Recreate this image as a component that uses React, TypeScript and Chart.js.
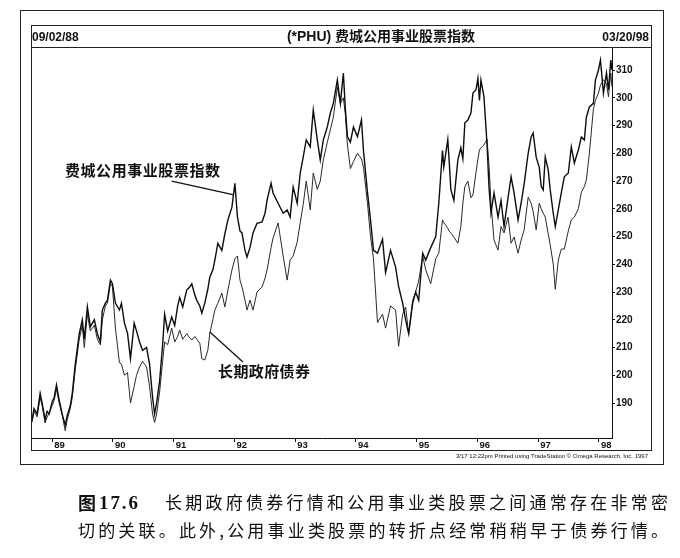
import React, { useEffect, useRef } from "react";
import { Chart, registerables } from "chart.js";

Chart.register(...registerables);

// ---- data (decimal years, index values) ----
const dates = [
  1988.669, 1988.702, 1988.752, 1988.802, 1988.835, 1988.884, 1988.917, 1988.95, 1989.0, 1989.033,
  1989.071, 1989.116, 1989.165, 1989.215, 1989.248, 1989.298, 1989.331, 1989.38, 1989.446, 1989.496,
  1989.529, 1989.579, 1989.628, 1989.694, 1989.744, 1989.793, 1989.826, 1989.876, 1989.909, 1989.959,
  1989.992, 1990.041, 1990.107, 1990.14, 1990.19, 1990.24, 1990.289, 1990.35, 1990.388, 1990.438,
  1990.488, 1990.554, 1990.603, 1990.653, 1990.686, 1990.719, 1990.769, 1990.818, 1990.851, 1990.901,
  1990.967, 1991.017, 1991.066, 1991.099, 1991.149, 1991.215, 1991.264, 1991.298, 1991.347, 1991.38,
  1991.43, 1991.463, 1991.512, 1991.562, 1991.595, 1991.645, 1991.678, 1991.727, 1991.793, 1991.843,
  1991.893, 1991.959, 1992.008, 1992.05, 1992.091, 1992.124, 1992.174, 1992.207, 1992.256, 1992.306,
  1992.372, 1992.455, 1992.504, 1992.537, 1992.603, 1992.636, 1992.719, 1992.802, 1992.868, 1992.917,
  1992.967, 1993.033, 1993.083, 1993.132, 1993.182, 1993.248, 1993.298, 1993.364, 1993.413, 1993.463,
  1993.529, 1993.579, 1993.628, 1993.694, 1993.744, 1993.793, 1993.826, 1993.86, 1993.909, 1993.959,
  1994.025, 1994.091, 1994.124, 1994.19, 1994.24, 1994.289, 1994.355, 1994.438, 1994.488, 1994.57,
  1994.653, 1994.702, 1994.769, 1994.818, 1994.868, 1994.934, 1994.983, 1995.033, 1995.099, 1995.149,
  1995.231, 1995.314, 1995.364, 1995.425, 1995.446, 1995.512, 1995.534, 1995.562, 1995.612, 1995.678,
  1995.727, 1995.76, 1995.793, 1995.843, 1995.893, 1995.926, 1995.975, 1996.008, 1996.033, 1996.058,
  1996.107, 1996.157, 1996.19, 1996.223, 1996.273, 1996.339, 1996.388, 1996.438, 1996.504, 1996.554,
  1996.603, 1996.669, 1996.719, 1996.769, 1996.835, 1996.884, 1996.917, 1996.967, 1997.017, 1997.05,
  1997.083, 1997.116, 1997.165, 1997.198, 1997.248, 1997.281, 1997.331, 1997.38, 1997.43, 1997.496,
  1997.545, 1997.595, 1997.661, 1997.711, 1997.76, 1997.793, 1997.843, 1997.909, 1997.942, 1997.992,
  1998.025, 1998.074, 1998.124, 1998.157, 1998.195, 1998.214,
];

const phuValues = [
  184, 188, 186, 193.5, 190, 184, 187, 186, 190.5, 192,
  196.5, 191, 186, 182, 185.5, 189, 193.5, 204, 215, 220,
  213, 224.7, 217.5, 220, 215, 212, 223.5, 226, 227, 234.3,
  233, 226, 223.5, 226, 218.8, 215.2, 206, 218.8, 216, 212,
  209, 210, 204, 192, 186, 190, 198, 211, 222, 216,
  221, 218, 225, 228, 224.6, 230.7, 231.8, 233, 229, 227,
  225, 222.4, 226, 231, 235.4, 238, 241.5, 247.6, 245, 251,
  256, 260.6, 269.2, 257, 252, 251.3, 245, 242.6, 246, 251.3,
  254.8, 255.3, 258.4, 263, 269.2, 265.7, 262, 258.4, 259.6, 257,
  267.8, 262, 272.9, 278.6, 284.8, 282.3, 295.6, 284.8, 277.6, 284.8,
  289.5, 294.5, 298, 306.4, 298, 308.9, 296, 286, 284, 289.5,
  286, 292, 281, 266, 256, 245, 244, 249, 237, 245,
  239, 232, 226, 220, 215, 226, 230, 227, 244, 241.5,
  246, 250, 262, 281, 275, 285, 277.6, 267, 263, 277.6,
  282, 278, 291, 292, 294.5, 301.7, 302.8, 307, 299, 306.4,
  300.4, 283.7, 268, 258.4, 265.7, 257, 263, 253.6, 264, 271.5,
  265.7, 256, 262, 269, 280, 285.9, 287.3, 278.6, 275, 268,
  266.8, 278.6, 274, 266.8, 258.4, 253.6, 259.6, 265.7, 271.5, 272.9,
  282.3, 276.5, 281.2, 285.9, 284.8, 293, 296.7, 298, 306.4, 310,
  313.6, 301.7, 308.9, 302.8, 313.6, 310,
];

const bondValues = [
  183, 187, 185, 192, 189, 182.8, 185, 186.4, 189, 191,
  195, 190, 185.7, 180, 184, 188, 192, 202, 213, 218,
  210, 222, 216, 218, 213, 211, 220, 225, 226, 233,
  232, 217, 204.5, 204, 200, 201, 190, 196, 200, 203,
  205, 203, 196, 186, 183, 186, 194, 205, 212, 211,
  217, 212, 214, 216.3, 213, 215, 213.5, 212.7, 214, 213,
  211.6, 206, 205.5, 209, 215.2, 220, 223.5, 226, 229.6, 224.6,
  230.7, 238, 242, 243, 234.3, 232, 227, 223.5, 227.1, 223.5,
  230, 231.8, 235, 237.9, 246, 249.5, 254.9, 243, 234.3, 241.5,
  243, 248, 255, 261.5, 270, 259.6, 272.9, 267, 270, 277.6,
  284, 288.5, 293, 303.9, 298, 300, 294, 283, 274.5, 277,
  280, 278, 275, 262, 250, 242, 219, 222, 217, 225,
  223.5, 210.4, 222, 224.6, 215, 227, 230, 234, 243, 238,
  233, 242, 244, 256, 255, 253, 252, 251.3, 249.8, 247.6,
  253.6, 262, 268, 270, 264, 265, 272.9, 278, 281.2, 282,
  283, 285, 276, 262, 248.7, 245.1, 253.6, 251.3, 257, 247.6,
  249.8, 244, 248.7, 252.4, 264.2, 262, 259, 252.4, 262, 260,
  258.4, 257, 251, 247, 240, 231, 241.5, 245.5, 245.5, 252,
  256, 257, 260, 266, 268, 270.4, 280.1, 296, 299, 301.7,
  304.5, 306.5, 305, 300.4, 308.9, 304,
];

const yearTicks = [1989, 1990, 1991, 1992, 1993, 1994, 1995, 1996, 1997, 1998];
const priceTicks = [190, 200, 210, 220, 230, 240, 250, 260, 270, 280, 290, 300, 310];

const startDateLabel = "09/02/88";
const endDateLabel = "03/20/98";
const titleText = "(*PHU) 费城公用事业股票指数";
const phuName = "费城公用事业股票指数";
const bondName = "长期政府债券";
const footerNote = "3/17 12:22pm Printed using TradeStation © Omega Research, Inc. 1997";
const captionFigure = "图";
const captionNumber = "17.6";
const captionLine1 = "长期政府债券行情和公用事业类股票之间通常存在非常密";
const captionLine2 = "切的关联。此外,公用事业类股票的转折点经常稍稍早于债券行情。";

// annotation pointers in data coordinates: [year, value]
const phuPointer = [[1990.967, 270.0], [1991.992, 265.0]];
const bondPointer = [[1991.595, 215.6], [1992.14, 204.8]];

const X_MIN = 1988.668;
const X_MAX = 1998.215;
const Y_MIN = 177.4;
const Y_MAX = 318.3;

// draws text char by char so that it spans from x0 to x1 (right edge of last char)
function drawSpread(ctx: CanvasRenderingContext2D, text: string, x0: number, x1: number, y: number) {
  const chars = Array.from(text);
  const widths = chars.map((c) => ctx.measureText(c).width);
  const total = widths.reduce((a, b) => a + b, 0);
  const gap = chars.length > 1 ? (x1 - x0 - total) / (chars.length - 1) : 0;
  let x = x0;
  chars.forEach((c, i) => {
    ctx.fillText(c, x, y);
    x += widths[i] + gap;
  });
}

const decorPlugin = {
  id: "decor",
  beforeDraw(chart: any) {
    const ctx = chart.ctx;
    ctx.save();
    ctx.fillStyle = "#ffffff";
    ctx.fillRect(0, 0, chart.width, chart.height);
    ctx.restore();
  },
  afterDraw(chart: any) {
    const ctx: CanvasRenderingContext2D = chart.ctx;
    const xs = chart.scales.x;
    const ys = chart.scales.y;
    ctx.save();
    ctx.strokeStyle = "#222";
    ctx.lineWidth = 1;
    // outer frame
    ctx.strokeRect(20.5, 10.5, 643, 454);
    // inner frame
    ctx.strokeRect(31.5, 25.5, 620, 425);
    // header separator
    ctx.beginPath();
    ctx.moveTo(31.5, 47.5);
    ctx.lineTo(651.5, 47.5);
    ctx.stroke();

    ctx.fillStyle = "#111";
    ctx.textBaseline = "alphabetic";
    ctx.font = 'bold 12px "Liberation Sans", Arial, sans-serif';
    ctx.textAlign = "left";
    ctx.fillText(startDateLabel, 32, 41);
    ctx.textAlign = "right";
    ctx.fillText(endDateLabel, 649, 41);
    ctx.textAlign = "center";
    ctx.font = 'bold 14px "Liberation Sans", "Noto Sans CJK SC", sans-serif';
    ctx.fillText(titleText, 381, 41);

    // footer note
    ctx.textAlign = "right";
    ctx.font = '6px "Liberation Sans", Arial, sans-serif';
    ctx.fillText(footerNote, 648, 458);

    // annotations
    ctx.textAlign = "left";
    ctx.textBaseline = "middle";
    ctx.font = 'bold 15px "Noto Sans CJK SC", sans-serif';
    drawSpread(ctx, phuName, 65, 220, 170);
    drawSpread(ctx, bondName, 218, 310, 371);

    ctx.lineWidth = 1.3;
    ctx.strokeStyle = "#111";
    [phuPointer, bondPointer].forEach((p) => {
      ctx.beginPath();
      ctx.moveTo(xs.getPixelForValue(p[0][0]), ys.getPixelForValue(p[0][1]));
      ctx.lineTo(xs.getPixelForValue(p[1][0]), ys.getPixelForValue(p[1][1]));
      ctx.stroke();
    });

    // caption
    ctx.textBaseline = "middle";
    ctx.fillStyle = "#111";
    ctx.font = 'bold 18px "Noto Sans CJK SC", sans-serif';
    ctx.fillText(captionFigure, 78, 503);
    ctx.font = 'bold 19px "Liberation Serif", serif';
    drawSpread(ctx, captionNumber, 99, 138, 504);
    ctx.font = '17px "Noto Sans CJK SC", sans-serif';
    drawSpread(ctx, captionLine1, 165, 668, 503);
    drawSpread(ctx, captionLine2, 78, 668, 531);
    ctx.restore();
  },
};

export default function App() {
  const canvasRef = useRef<HTMLCanvasElement | null>(null);

  useEffect(() => {
    const canvas = canvasRef.current;
    if (!canvas) return;
    const yFont = { family: '"Liberation Sans", Arial, sans-serif', size: 10, weight: "bold" as const };
    const xFont = { family: '"Liberation Sans", Arial, sans-serif', size: 9.5, weight: "bold" as const };
    const chart = new Chart(canvas, {
      type: "line",
      data: {
        datasets: [
          {
            label: phuName,
            data: dates.map((d, i) => ({ x: d, y: phuValues[i] })),
            borderColor: "#0d0d0d",
            borderWidth: 1.4,
            pointRadius: 0,
            tension: 0,
          },
          {
            label: bondName,
            data: dates.map((d, i) => ({ x: d, y: bondValues[i] })),
            borderColor: "#2a2a2a",
            borderWidth: 1.0,
            pointRadius: 0,
            tension: 0,
          },
        ],
      },
      options: {
        animation: false,
        responsive: false,
        devicePixelRatio: 1,
        layout: { padding: { left: 32, top: 47, right: 29, bottom: 108 } },
        plugins: { legend: { display: false }, tooltip: { enabled: false } },
        scales: {
          x: {
            type: "linear",
            min: X_MIN,
            max: X_MAX,
            afterBuildTicks: (s: any) => {
              s.ticks = yearTicks.map((v) => ({ value: v }));
            },
            afterFit: (s: any) => {
              s.height = 12;
            },
            ticks: {
              callback: (v: any) => String(v).slice(2),
              align: "start",
              labelOffset: 2,
              padding: -2,
              autoSkip: false,
              maxRotation: 0,
              color: "#111",
              font: xFont,
            },
            grid: { drawOnChartArea: false, drawTicks: true, tickLength: 4, color: "#111" },
            border: { display: true, color: "#111", width: 1 },
          },
          y: {
            position: "right",
            min: Y_MIN,
            max: Y_MAX,
            afterBuildTicks: (s: any) => {
              s.ticks = priceTicks.map((v) => ({ value: v }));
            },
            afterFit: (s: any) => {
              s.width = 39;
            },
            ticks: { color: "#111", font: yFont, padding: 1, autoSkip: false },
            grid: { drawOnChartArea: false, drawTicks: true, tickLength: 3, color: "#111" },
            border: { display: true, color: "#111", width: 1 },
          },
        },
      } as any,
      plugins: [decorPlugin],
    });
    return () => chart.destroy();
  }, []);

  return (
    <div style={{ position: "fixed", left: 0, top: 0, width: 680, height: 558, background: "#fff" }}>
      <canvas ref={canvasRef} width={680} height={558} style={{ display: "block", width: 680, height: 558 }} />
    </div>
  );
}
